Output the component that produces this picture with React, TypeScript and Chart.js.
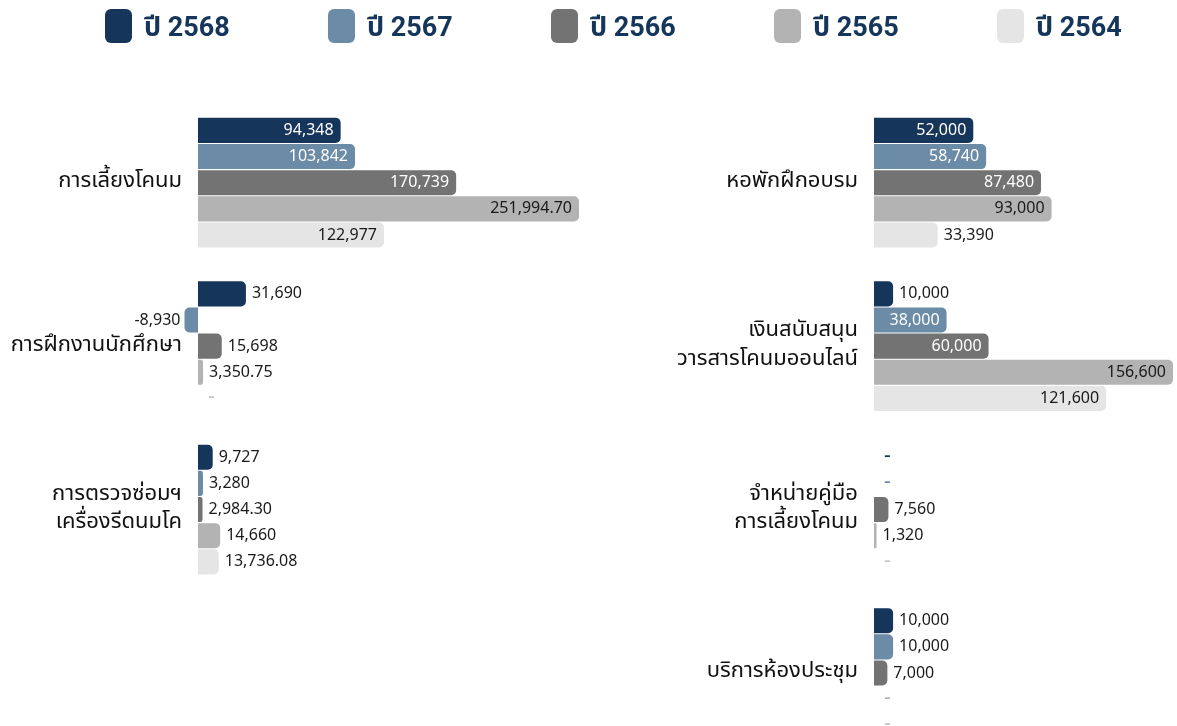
import React, { useEffect, useRef } from "react";
import { Chart, registerables } from "chart.js";

Chart.register(...registerables);

const seriesNames = ["ปี 2568", "ปี 2567", "ปี 2566", "ปี 2565", "ปี 2564"];
const seriesColors = ["#15355a", "#6b8ba6", "#737373", "#b3b3b3", "#e5e5e5"];
const insideLabelColors = ["#ffffff", "#ffffff", "#ffffff", "#1a1a1a", "#1a1a1a"];
const dashColors = ["#15355a", "#6b8ba6", "#737373", "#b3b3b3", "#c4c4c4"];

const leftCategories: (string | string[])[] = [
  "การเลี้ยงโคนม",
  "การฝึกงานนักศึกษา",
  ["การตรวจซ่อมฯ", "เครื่องรีดนมโค"],
  "",
];
const left2568 = [94348, 31690, 9727, null];
const left2567 = [103842, -8930, 3280, null];
const left2566 = [170739, 15698, 2984.3, null];
const left2565 = [251994.7, 3350.75, 14660, null];
const left2564 = [122977, null, 13736.08, null];

const rightCategories: (string | string[])[] = [
  "หอพักฝึกอบรม",
  ["เงินสนับสนุน", "วารสารโคนมออนไลน์"],
  ["จำหน่ายคู่มือ", "การเลี้ยงโคนม"],
  "บริการห้องประชุม",
];
const right2568 = [52000, 10000, null, 10000];
const right2567 = [58740, 38000, null, 10000];
const right2566 = [87480, 60000, 7560, 7000];
const right2565 = [93000, 156600, 1320, null];
const right2564 = [33390, 121600, null, null];

const THAI_FONT = "'Noto Sans Thai', 'Noto Sans', sans-serif";
const NUM_FONT = "'Noto Sans', 'Noto Sans Thai', sans-serif";
const CANVAS_H = 785;

function fmt(v: number): string {
  if (Number.isInteger(v)) return v.toLocaleString("en-US");
  return v.toLocaleString("en-US", { minimumFractionDigits: 2, maximumFractionDigits: 2 });
}

const valueLabelPlugin = {
  id: "valueLabels",
  afterDatasetsDraw(chart: any) {
    const ctx = chart.ctx;
    const xScale = chart.scales.x;
    const zero = xScale.getPixelForValue(0);
    const labels = chart.data.labels;
    ctx.save();
    ctx.textBaseline = "middle";
    chart.data.datasets.forEach((ds: any, di: number) => {
      const meta = chart.getDatasetMeta(di);
      meta.data.forEach((el: any, i: number) => {
        const lab = labels[i];
        if (lab === "" || (Array.isArray(lab) && lab.length === 0)) return;
        const v = ds.data[i];
        const y = el.y;
        if (v === null || v === undefined) {
          ctx.font = `400 21px ${NUM_FONT}`;
          ctx.fillStyle = ds.dashColor;
          ctx.textAlign = "left";
          ctx.fillText("-", zero + 10, y - 1);
          return;
        }
        ctx.font = `400 16px ${NUM_FONT}`;
        const text = fmt(v);
        const tw = ctx.measureText(text).width;
        const w = Math.abs(el.x - el.base);
        if (v >= 0) {
          if (tw + 14 <= w) {
            ctx.fillStyle = ds.insideColor;
            ctx.textAlign = "right";
            ctx.fillText(text, el.x - 7, y);
          } else {
            ctx.fillStyle = "#1a1a1a";
            ctx.textAlign = "left";
            ctx.fillText(text, el.x + 6, y);
          }
        } else {
          ctx.fillStyle = "#1a1a1a";
          ctx.textAlign = "right";
          ctx.fillText(text, el.x - 4, y);
        }
      });
    });
    ctx.restore();
  },
};

function makeConfig(
  categories: (string | string[])[],
  series: (number | null)[][],
  axisWidth: number,
  padRight: number
) {
  const all = series.flat().filter((v) => v !== null) as number[];
  const maxV = Math.max(...all);
  return {
    type: "bar" as const,
    data: {
      labels: categories,
      datasets: series.map((d, i) => ({
        label: seriesNames[i],
        data: d,
        backgroundColor: seriesColors[i],
        borderWidth: 0,
        borderRadius: 5,
        borderSkipped: "start",
        barPercentage: 0.96,
        categoryPercentage: 0.8,
        clip: false,
        insideColor: insideLabelColors[i],
        dashColor: dashColors[i],
      })),
    },
    options: {
      indexAxis: "y" as const,
      animation: false,
      responsive: false,
      maintainAspectRatio: false,
      layout: { padding: { top: 101, bottom: 0, left: 0, right: padRight } },
      plugins: { legend: { display: false }, tooltip: { enabled: false } },
      scales: {
        x: { display: false, min: 0, max: maxV },
        y: {
          grid: { display: false, drawTicks: false },
          border: { display: false },
          ticks: {
            padding: 16,
            color: "#111111",
            font: { family: THAI_FONT, size: 22, lineHeight: 1.3 },
          },
          afterFit: (scale: any) => {
            scale.width = axisWidth;
          },
        },
      },
    },
    plugins: [valueLabelPlugin],
  };
}

function BarPanel(props: {
  categories: (string | string[])[];
  series: (number | null)[][];
  left: number;
  width: number;
  axisWidth: number;
  padRight: number;
}) {
  const ref = useRef<HTMLCanvasElement | null>(null);
  useEffect(() => {
    if (!ref.current) return;
    const chart = new Chart(
      ref.current,
      makeConfig(props.categories, props.series, props.axisWidth, props.padRight) as any
    );
    return () => chart.destroy();
  }, []);
  return (
    <canvas
      ref={ref}
      width={props.width}
      height={CANVAS_H}
      style={{ position: "absolute", left: props.left, top: 0, width: props.width, height: CANVAS_H }}
    />
  );
}

export default function App() {
  const legendLefts = [105, 328, 551, 774, 997];
  return (
    <div
      style={{
        position: "fixed",
        left: 0,
        top: 0,
        width: 1177,
        height: 726,
        overflow: "hidden",
        background: "#ffffff",
      }}
    >
      <BarPanel
        categories={leftCategories}
        series={[left2568, left2567, left2566, left2565, left2564]}
        left={0}
        width={590}
        axisWidth={198}
        padRight={11}
      />
      <BarPanel
        categories={rightCategories}
        series={[right2568, right2567, right2566, right2565, right2564]}
        left={590}
        width={587}
        axisWidth={284}
        padRight={4}
      />
      {seriesNames.map((name, i) => (
        <div
          key={name}
          style={{
            position: "absolute",
            left: legendLefts[i],
            top: 9,
            height: 34,
            display: "flex",
            alignItems: "center",
          }}
        >
          <div
            style={{
              width: 27,
              height: 34,
              borderRadius: 6,
              background: seriesColors[i],
              marginRight: 12,
            }}
          />
          <span
            style={{
              fontFamily: "Roboto, 'Noto Sans Thai', sans-serif",
              fontWeight: 700,
              fontSize: 27,
              color: "#15365a",
              whiteSpace: "nowrap",
              lineHeight: "34px",
              paddingTop: 2,
            }}
          >
            {name}
          </span>
        </div>
      ))}
    </div>
  );
}
